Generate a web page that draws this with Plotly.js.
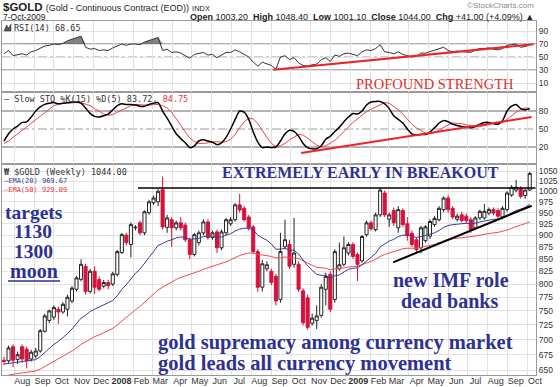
<!DOCTYPE html>
<html><head><meta charset="utf-8">
<script src="https://cdn.plot.ly/plotly-3.0.1.min.js"></script>
<style>html,body{margin:0;padding:0;background:#fff;}#chart{width:560px;height:387px;}</style>
</head><body><div id="chart"></div>
<script>
// ---------- DATA ----------
const weekDates = [
'2007-07-16','2007-07-23','2007-07-30','2007-08-06','2007-08-13','2007-08-20','2007-08-27','2007-09-03','2007-09-10','2007-09-17',
'2007-09-24','2007-10-01','2007-10-08','2007-10-15','2007-10-22','2007-10-29','2007-11-05','2007-11-12','2007-11-19','2007-11-26',
'2007-12-03','2007-12-10','2007-12-17','2007-12-24','2007-12-31','2008-01-07','2008-01-14','2008-01-21','2008-01-28','2008-02-04',
'2008-02-11','2008-02-18','2008-02-25','2008-03-03','2008-03-10','2008-03-17','2008-03-24','2008-03-31','2008-04-07','2008-04-14',
'2008-04-21','2008-04-28','2008-05-05','2008-05-12','2008-05-19','2008-05-26','2008-06-02','2008-06-09','2008-06-16','2008-06-23',
'2008-06-30','2008-07-07','2008-07-14','2008-07-21','2008-07-28','2008-08-04','2008-08-11','2008-08-18','2008-08-25','2008-09-01',
'2008-09-08','2008-09-15','2008-09-22','2008-09-29','2008-10-06','2008-10-13','2008-10-20','2008-10-27','2008-11-03','2008-11-10',
'2008-11-17','2008-11-24','2008-12-01','2008-12-08','2008-12-15','2008-12-22','2008-12-29','2009-01-05','2009-01-12','2009-01-19',
'2009-01-26','2009-02-02','2009-02-09','2009-02-16','2009-02-23','2009-03-02','2009-03-09','2009-03-16','2009-03-23','2009-03-30',
'2009-04-06','2009-04-13','2009-04-20','2009-04-27','2009-05-04','2009-05-11','2009-05-18','2009-05-25','2009-06-01','2009-06-08',
'2009-06-15','2009-06-22','2009-06-29','2009-07-06','2009-07-13','2009-07-20','2009-07-27','2009-08-03','2009-08-10','2009-08-17',
'2009-08-24','2009-08-31','2009-09-07','2009-09-14','2009-09-21','2009-09-28','2009-10-05'];

const opens = [666,665,688,667,688,684,668,673,681,714, 733,739,753,748,753,768,790,809,835,786,
 825,809,796,803,800,819,863,900,880,916, 927,905,950,973,975,1004,917,934,916,927,
 922,890,859,884,905,929,895,907,873,905, 925,934,968,960,940,918,865,794,830,825,
 815,771,875,880,839,839,787,774,728,733, 742,790,819,771,830,839,862,880,859,846,
 901,927,912,945,996,935,955,916,955,925, 904,890,873,888,898,923,934,957,984,960,
 935,945,942,934,916,938,938,949,957,955, 940,957,991,1003,1008,990,1003.2];
const highs = [672,690,692,680,692,688,683,686,718,745, 752,760,758,766,780,796,816,849,840,830,
 835,815,808,808,824,868,905,905,928,922, 932,955,980,990,1005,1036,945,940,932,940,
 928,895,905,910,935,935,910,912,912,938, 940,972,994,965,945,922,870,848,845,830,
 820,905,934,890,938,845,792,780,745,760, 800,822,825,870,884,897,885,885,863,900,
 932,932,950,1008,1002,950,962,965,960,940, 910,895,920,922,935,942,965,988,990,965,
 948,952,948,940,942,957,970,962,962,960, 965,1000,1015,1028,1012,1005,1048.4];
const lows = [658,662,655,660,662,653,664,669,678,712, 728,734,727,745,740,764,786,805,780,782,
 781,786,792,790,796,815,860,878,853,910, 900,900,945,968,965,912,905,875,910,910,
 885,849,855,878,900,890,890,862,868,900, 920,930,950,930,910,860,785,786,825,798,
 760,765,870,830,832,785,724,717,724,718, 738,760,748,765,826,835,857,850,806,842,
 897,910,908,940,940,918,920,905,918,888, 875,862,862,884,892,918,930,952,950,935,
 930,928,925,905,912,934,934,944,944,937, 935,952,987,998,983,982,1001.1];
const closes = [664,686,666,675,668,665,679,681,715,741, 750,756,748,762,775,792,812,839,786,825,
 794,790,803,797,820,865,901,884,923,917, 905,952,975,984,1000,918,938,916,927,916,
 890,859,901,905,929,895,905,873,907,934, 934,968,956,934,916,865,794,840,838,803,
 768,865,890,835,862,790,729,721,737,741, 794,815,753,865,838,873,880,855,839,897,
 927,914,945,1003,945,945,927,957,923,899, 880,869,916,918,930,937,960,984,957,940,
 942,932,932,912,938,953,953,957,949,942, 960,996,1010,1010,988,1003,1044];

const ema20 = [660,661,662,663,663,664,665,667,672,679, 685,692,697,703,710,718,727,737,742,749,
 753,757,761,764,769,778,790,799,811,821, 829,840,853,865,878,882,887,890,894,896,
 895,891,892,893,897,897,898,895,896,900, 903,909,913,915,915,911,900,894,889,881,
 870,870,872,868,868,860,848,836,827,819, 817,817,811,816,818,823,829,831,832,838,
 846,853,861,875,881,887,891,897,900,900, 898,895,897,899,902,905,910,917,921,923,
 924,925,926,925,926,929,931,933,935,935, 938,943,950,955,958,962,969.67];
const ema50 = [641,643,644,645,646,647,648,649,652,656, 660,664,668,672,676,681,686,692,696,701,
 705,708,712,715,719,725,732,738,745,752, 758,765,773,781,789,794,800,804,809,813,
 816,818,821,825,829,832,835,837,840,844, 848,853,857,860,862,862,859,858,857,855,
 852,852,854,853,853,851,846,841,837,833, 832,831,828,830,830,832,834,835,835,838,
 841,845,849,855,859,862,865,869,871,872, 872,872,874,876,878,880,884,888,891,892,
 893,894,895,896,898,900,902,904,905,906, 908,911,915,919,922,925,929.09];

const rsi14 = [55,60,52,54,55,53,58,60,64,67, 68,70,69,71,75,77,79,82,65,62,
 63,60,61,60,64,67,70,68,70,70, 69,73,75,77,80,60,62,57,58,56,
 52,48,54,55,57,53,54,49,53,57, 57,61,58,54,50,42,36,42,40,37,
 31,50,52,46,49,41,37,36,38,39, 46,49,43,53,51,55,56,54,52,58,
 61,60,63,69,58,57,55,58,54,52, 50,51,56,56,58,60,62,65,60,58,
 59,58,58,57,61,63,63,64,62,61, 63,68,69,70,65,66,68.65];
const stoK = [30,42,50,55,61,62,70,80,87,91, 93,94,92,93,94,95,95,93,85,76,
 71,70,72,75,82,89,92,91,91,90, 88,88,91,93,94,80,68,55,42,34,
 27,19,22,30,32,30,28,24,27,36, 50,66,80,78,66,45,28,19,20,19,
 20,30,42,48,46,38,26,19,17,17, 22,33,38,46,53,62,70,76,75,80,
 90,95,96,96,92,84,72,66,60,50, 42,40,41,41,45,52,60,64,62,58,
 56,54,53,52,54,58,61,61,59,58, 64,80,88,91,84,82,83.72];
const stoD = [26,30,36,42,48,54,60,66,72,78, 84,89,91,93,93,94,94,94,92,89,
 84,79,75,73,74,78,82,86,89,91, 90,90,90,90,91,89,85,78,68,56,
 45,35,29,26,26,27,28,29,28,29, 33,41,52,62,68,67,59,47,36,26,
 21,22,26,32,37,41,40,35,29,23, 20,22,26,31,38,46,54,61,67,73,
 79,83,87,91,94,93,88,82,75,66, 58,52,47,43,42,44,48,53,57,60,
 60,59,57,55,54,54,56,57,59,59, 61,66,72,78,82,85,84.75];

// hand-drawn lines on the reference
const resistanceDates = ['2008-02-08','2009-10-14'], resistanceVals = [1008,1008];
const supportDates = ['2009-03-08','2009-10-08'], supportVals = [843,966];
const rsiTrendDates = ['2008-09-04','2009-10-11'], rsiTrendVals = [30.5,69.5];
const stoTrendDates = ['2008-10-17','2009-10-08'], stoTrendVals = [10,70];

const priceTicks = [650,675,700,725,750,775,800,825,850,875,900,925,950,975,1000,1025,1050];
const monthTicks = ['2007-08-01','2007-09-01','2007-10-01','2007-11-01','2007-12-01','2008-01-01','2008-02-01','2008-03-01','2008-04-01',
 '2008-05-01','2008-06-01','2008-07-01','2008-08-01','2008-09-01','2008-10-01','2008-11-01','2008-12-01','2009-01-01','2009-02-01',
 '2009-03-01','2009-04-01','2009-05-01','2009-06-01','2009-07-01','2009-08-01','2009-09-01','2009-10-01'];
const monthLabels = ['Aug','Sep','Oct','Nov','Dec','<b>2008</b>','Feb','Mar','Apr','May','Jun','Jul','Aug','Sep','Oct','Nov','Dec',
 '<b>2009</b>','Feb','Mar','Apr','May','Jun','Jul','Aug','Sep','Oct'];

// ---------- LAYOUT HELPERS ----------
const W=560,H=387,ML=2,MR=24,MT=21,MB=12;
const PW=W-ML-MR, PH=H-MT-MB;
const px = x => (x-ML)/PW;
const py = y => (H-MB-y)/PH;
const xRange = ['2007-07-12 22:00','2009-10-14 17:00'];
const navy = '#2e3192', upRed = '#d8103c';
const mono = 'DejaVu Sans Mono, monospace';
const sans = 'Liberation Sans, Arial, sans-serif';
const serif = 'Liberation Serif, Times New Roman, serif';

const traces = [
 {type:'candlestick', x:weekDates, open:opens, high:highs, low:lows, close:closes, xaxis:'x', yaxis:'y',
  increasing:{line:{color:'#222',width:1}, fillcolor:'#ffffff'},
  decreasing:{line:{color:upRed,width:1}, fillcolor:upRed}, whiskerwidth:0, hoverinfo:'skip'},
 {type:'scatter', mode:'lines', x:weekDates, y:ema50, xaxis:'x', yaxis:'y', line:{color:'#ee4a52',width:1}, hoverinfo:'skip'},
 {type:'scatter', mode:'lines', x:weekDates, y:ema20, xaxis:'x', yaxis:'y', line:{color:'#3b3b98',width:1}, hoverinfo:'skip'},
 {type:'scatter', mode:'lines', x:resistanceDates, y:resistanceVals, xaxis:'x', yaxis:'y', line:{color:'#000',width:1.6}, hoverinfo:'skip'},
 {type:'scatter', mode:'lines', x:supportDates, y:supportVals, xaxis:'x', yaxis:'y', line:{color:'#000',width:2}, hoverinfo:'skip'},
 // stochastics
 {type:'scatter', mode:'lines', x:weekDates, y:stoD, xaxis:'x', yaxis:'y2', line:{color:'#f0404a',width:1}, hoverinfo:'skip'},
 {type:'scatter', mode:'lines', x:weekDates, y:stoK, xaxis:'x', yaxis:'y2', line:{color:'#000',width:1.5,shape:'spline',smoothing:0.6}, hoverinfo:'skip'},
 {type:'scatter', mode:'lines', x:stoTrendDates, y:stoTrendVals, xaxis:'x', yaxis:'y2', line:{color:'#ee2228',width:2}, hoverinfo:'skip'},
 // RSI with shading above 70
 {type:'scatter', mode:'lines', x:weekDates, y:rsi14.map(()=>70), xaxis:'x', yaxis:'y3', line:{width:0,color:'rgba(0,0,0,0)'}, hoverinfo:'skip'},
 {type:'scatter', mode:'lines', x:weekDates, y:rsi14.map(v=>Math.max(v,70)), xaxis:'x', yaxis:'y3', fill:'tonexty', fillcolor:'rgba(90,90,90,0.75)', line:{width:0,color:'rgba(0,0,0,0)'}, hoverinfo:'skip'},
 {type:'scatter', mode:'lines', x:weekDates, y:rsi14, xaxis:'x', yaxis:'y3', line:{color:'#333',width:1}, hoverinfo:'skip'},
 {type:'scatter', mode:'lines', x:rsiTrendDates, y:rsiTrendVals, xaxis:'x', yaxis:'y3', line:{color:'#ee2228',width:2}, hoverinfo:'skip'}
];

function hline(yref, v, color, width, dash){
 return {type:'line', xref:'x', yref:yref, x0:xRange[0], x1:xRange[1], y0:v, y1:v, layer:'below', line:{color:color,width:width,dash:dash||'solid'}};
}
function txt(text, x, y, size, color, family, anchor){
 return {text:text, x:px(x), y:py(y), xref:'paper', yref:'paper', showarrow:false, xanchor:anchor||'left', yanchor:'middle',
  font:{size:size, color:color, family:family}};
}

const axisCommon = {showline:true, linecolor:'#9a9a9a', linewidth:1, mirror:true, zeroline:false, ticks:'', fixedrange:true};

const layout = {
 width:W, height:H, margin:{l:ML,r:MR,t:MT,b:MB,pad:0},
 paper_bgcolor:'#fff', plot_bgcolor:'#fff', showlegend:false,
 font:{family:sans, size:9, color:'#333'},
 boxgap:0.25, boxgroupgap:0.1,
 xaxis:Object.assign({}, axisCommon, {type:'date', range:xRange, anchor:'y', mirror:'all',
  tickmode:'array', tickvals:monthTicks, ticktext:monthLabels, tickangle:0, ticklabelshift:8, ticklabelstandoff:-3,
  tickfont:{size:9,color:'#333',family:sans}, showgrid:true, gridcolor:'#e2e2e2', gridwidth:1,
  rangeslider:{visible:false}}),
 yaxis:Object.assign({}, axisCommon, {domain:[0,py(164)], type:'log', range:[Math.log10(642.8),Math.log10(1068)], side:'right', anchor:'x',
  tickmode:'array', tickvals:priceTicks, ticktext:priceTicks.map(String), tickfont:{size:8.5,color:'#333'},
  showgrid:true, gridcolor:'#e2e2e2'}),
 yaxis2:Object.assign({}, axisCommon, {domain:[py(164),py(92)], range:[-8.3,111.7], side:'right', anchor:'x',
  tickmode:'array', tickvals:[20,50,80], tickfont:{size:8.5,color:'#333'}, showgrid:false}),
 yaxis3:Object.assign({}, axisCommon, {domain:[py(92),1], range:[-3.85,105.4], side:'right', anchor:'x',
  tickmode:'array', tickvals:[10,30,50,70,90], tickfont:{size:8.5,color:'#333'}, showgrid:true, gridcolor:'#e2e2e2'}),
 shapes:[
  hline('y3',70,'#9a9a9a',1.5), hline('y3',30,'#9a9a9a',1.5), hline('y3',50,'#9a9a9a',1,'dashdot'),
  hline('y2',80,'#9a9a9a',1.5), hline('y2',20,'#9a9a9a',1.5), hline('y2',50,'#9a9a9a',1,'dashdot'),
  {type:'line', xref:'paper', yref:'paper', x0:px(8), x1:px(60), y0:py(281), y1:py(281), line:{color:navy,width:1.5}},
  {type:'path', xref:'paper', yref:'paper', path:'M '+px(4)+' '+py(31)+' L '+px(6.5)+' '+py(25)+' L '+px(8.5)+' '+py(28)+' L '+px(11)+' '+py(24)+' L '+px(11)+' '+py(31)+' Z', fillcolor:'#555', line:{color:'#333',width:0.5}}
 ],
 annotations:[
  txt('<b>$GOLD</b> <span style="font-size:9px">(Gold - Continuous Contract (EOD))</span> <span style="font-size:7.5px">INDX</span>', 1, 7, 11.5, '#222', sans),
  txt('7-Oct-2009', 1, 16.5, 8.5, '#222', sans),
  txt('<b>Open</b> 1003.20  <b>High</b> 1048.40  <b>Low</b> 1001.10  <b>Close</b> 1044.00  <b>Chg</b> +41.00 (+4.09%) \u25B2', 536, 16.5, 9, '#222', sans, 'right'),
  txt('\u00A9StockCharts.com', 536, 6, 8, '#8a8a8a', sans, 'right'),
  txt('RSI(14) 68.65', 12, 27.5, 8.5, '#333', mono),
  txt('\u2014 Slow STO %K(15) %D(5) 83.72, <span style="color:#e8343c">84.75</span>', 2, 98.5, 8.5, '#333', mono),
  txt('<b>\u20A9</b> $GOLD (Weekly) 1044.00', 2, 171.5, 8.5, '#333', mono),
  txt('<span style="color:#3b3b98">\u2014EMA(20) 969.67</span>', 2, 180.5, 7, '#3b3b98', mono),
  txt('\u2014EMA(50) 929.09', 2, 189.5, 7, '#e8343c', mono),
  txt('<b>targets</b>', 34, 212, 19.5, navy, serif, 'center'),
  txt('<b>1130</b>', 33, 231, 19.5, navy, serif, 'center'),
  txt('<b>1300</b>', 33, 251, 19.5, navy, serif, 'center'),
  txt('<b>moon</b>', 34, 271, 20, navy, serif, 'center'),
  txt('<b>EXTREMELY EARLY IN BREAKOUT</b>', 360, 172, 16, navy, serif, 'center'),
  txt('PROFOUND STRENGTH', 435, 84, 14.5, '#e0302c', serif, 'center'),
  txt('<b>new IMF role</b>', 451, 280, 20, navy, serif, 'center'),
  txt('<b>dead banks</b>', 449, 301, 20, navy, serif, 'center'),
  txt('<b>gold supremacy among currency market</b>', 156, 342.5, 20.5, navy, serif, 'left'),
  txt('<b>gold leads all currency movement</b>', 156, 363, 20.5, navy, serif, 'left')
 ]
};

Plotly.newPlot('chart', traces, layout, {staticPlot:true, displayModeBar:false});
</script>
</body></html>
